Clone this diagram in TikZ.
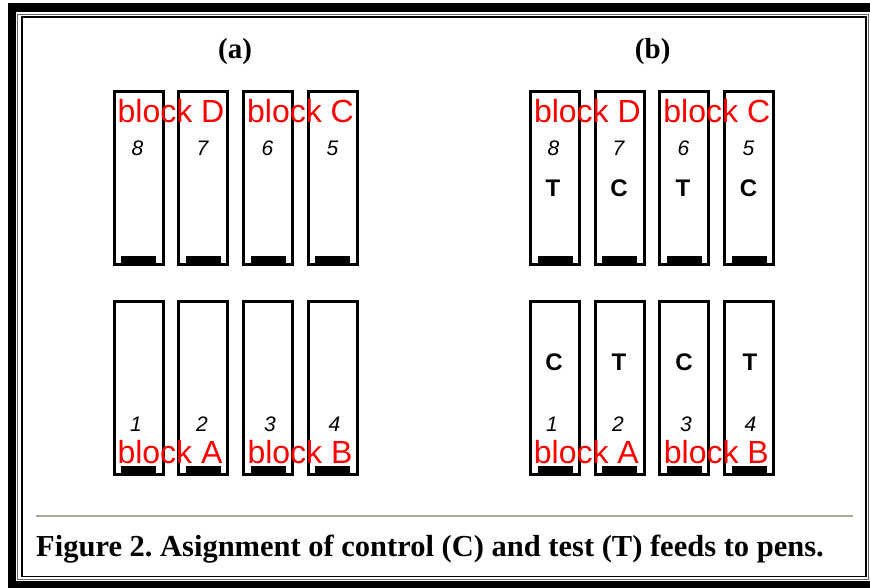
\documentclass[tikz,border=0pt]{standalone}
\usepackage{fontspec}
\setmainfont{Liberation Serif}
\newfontfamily\arialfont{Liberation Sans}
\usepackage{tikz}
\usetikzlibrary{calc}

\definecolor{rulegray}{RGB}{172,168,153}

\begin{document}
\frenchspacing
\begin{tikzpicture}[x=1pt, y=-1pt,
  pen/.style={draw, line width=3pt, minimum width=49pt, minimum height=173pt, inner sep=0pt,
    path picture={\fill ([xshift=-17.5pt]path picture bounding box.south) rectangle ([xshift=17.5pt,yshift=8.5pt]path picture bounding box.south);}},
  blocklabel/.style={anchor=base, inner sep=0pt, text=red, font=\arialfont\fontsize{32}{32}\selectfont},
  pennum/.style={anchor=base, inner sep=0pt, font=\arialfont\itshape\fontsize{21}{21}\selectfont},
  feed/.style={anchor=base, inner sep=0pt, font=\arialfont\bfseries\fontsize{24}{24}\selectfont},
  panel/.style={anchor=base, inner sep=0pt, font=\bfseries\fontsize{29}{29}\selectfont}]
\useasboundingbox (0,0) rectangle (870,587);
\clip (0,0) rectangle (870,587);

% --- Frame ---
\fill[white] (0,0) rectangle (870,587);
\draw[line width=8.5pt] (12,7.5) rectangle (880,585);
\draw[line width=1pt, black!60] (17.5,14.5) rectangle (868,579.5);
\draw[line width=1.6pt] (22,17) rectangle (866,576.5);

% --- Panel titles ---
\node[panel] (ta) at (235,58.5) {(a)};
\node[panel] (tb) at (652.7,58.5) {(b)};

% --- Pens, panel (a) ---
\node[pen] (a8) at (138.7,177.9) {};
\node[pen] (a7) at (203.4,177.9) {};
\node[pen] (a6) at (268.1,177.9) {};
\node[pen] (a5) at (332.8,177.9) {};
\node[pen] (a1) at (138.7,388.4) {};
\node[pen] (a2) at (203.4,388.4) {};
\node[pen] (a3) at (268.1,388.4) {};
\node[pen] (a4) at (332.8,388.4) {};

% --- Pens, panel (b) ---
\node[pen] (b8) at (555.0,177.9) {};
\node[pen] (b7) at (619.7,177.9) {};
\node[pen] (b6) at (684.4,177.9) {};
\node[pen] (b5) at (749.1,177.9) {};
\node[pen] (b1) at (555.0,388.4) {};
\node[pen] (b2) at (619.7,388.4) {};
\node[pen] (b3) at (684.4,388.4) {};
\node[pen] (b4) at (749.1,388.4) {};

% --- Pen numbers ---
\node[pennum] (na8) at (137.5,155) {8};
\node[pennum] (na7) at (202.5,155) {7};
\node[pennum] (na6) at (267.5,155) {6};
\node[pennum] (na5) at (332.5,155) {5};
\node[pennum] (na1) at (136,431.7) {1};
\node[pennum] (na2) at (202,431.7) {2};
\node[pennum] (na3) at (270,431.7) {3};
\node[pennum] (na4) at (334.5,431.7) {4};
\node[pennum] (nb8) at (553.5,155) {8};
\node[pennum] (nb7) at (618.5,155) {7};
\node[pennum] (nb6) at (683.5,155) {6};
\node[pennum] (nb5) at (748.5,155) {5};
\node[pennum] (nb1) at (552,431.7) {1};
\node[pennum] (nb2) at (618,431.7) {2};
\node[pennum] (nb3) at (686,431.7) {3};
\node[pennum] (nb4) at (750.5,431.7) {4};

% --- Feeds, panel (b) ---
\node[feed] (fb8) at (553,196.7) {T};
\node[feed] (fb7) at (619,196.7) {C};
\node[feed] (fb6) at (683,196.7) {T};
\node[feed] (fb5) at (748.5,196.7) {C};
\node[feed] (fb1) at (554,370) {C};
\node[feed] (fb2) at (619,370) {T};
\node[feed] (fb3) at (684,370) {C};
\node[feed] (fb4) at (750,370) {T};

% --- Block labels ---
\node[blocklabel] (bda) at (171,122.7) {block D};
\node[blocklabel] (bca) at (300.5,122.7) {block C};
\node[blocklabel] (baa) at (170,463.3) {block A};
\node[blocklabel] (bba) at (300,463.3) {block B};
\node[blocklabel] (bdb) at (587.4,122.7) {block D};
\node[blocklabel] (bcb) at (716.8,122.7) {block C};
\node[blocklabel] (bab) at (586.4,463.3) {block A};
\node[blocklabel] (bbb) at (716.4,463.3) {block B};

% --- Caption ---
\draw[line width=2pt, rulegray] (36,516) -- (852.7,516);
\node[anchor=base west, inner sep=0pt, font=\bfseries\fontsize{30.5}{30.5}\selectfont] (cap) at (36,556)
  {Figure 2. Asignment of control (C) and test (T) feeds to pens.};
\end{tikzpicture}
\end{document}
